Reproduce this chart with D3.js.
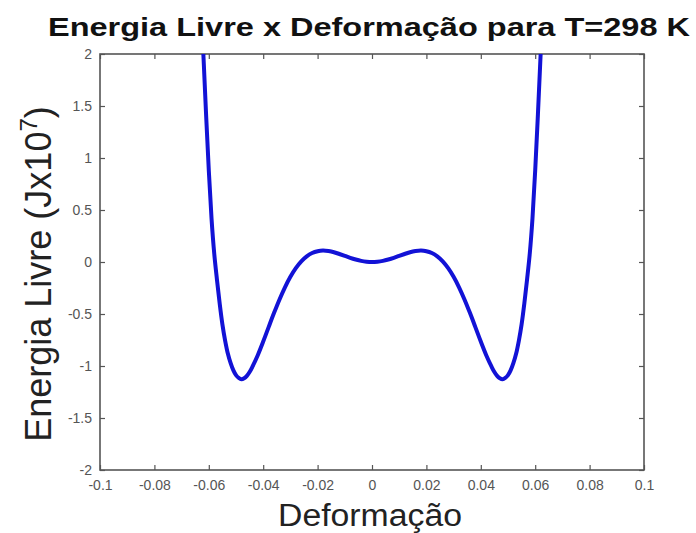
<!DOCTYPE html>
<html>
<head>
<meta charset="utf-8">
<script src="https://cdn.jsdelivr.net/npm/d3@7"></script>
<style>
  html, body { margin: 0; padding: 0; background: #fff; }
  svg { display: block; }
</style>
</head>
<body>
<script>
// Strain (deformação) and free energy (J x 10^7) on the positive half of the curve;
// the curve is symmetric, so the negative half mirrors these points.
const strainHalf = [0, 0.002, 0.004, 0.006, 0.008, 0.010, 0.012, 0.014, 0.016, 0.018,
                    0.020, 0.022, 0.024, 0.026, 0.028, 0.030, 0.032, 0.034, 0.036, 0.038,
                    0.040, 0.042, 0.044, 0.045, 0.046, 0.047, 0.048, 0.049, 0.050, 0.051,
                    0.052, 0.053, 0.054, 0.055, 0.056, 0.057, 0.058, 0.059, 0.060, 0.061,
                    0.062, 0.063];
const energyHalf = [0, 0.003, 0.011, 0.024, 0.040, 0.059, 0.077, 0.094, 0.105, 0.110,
                    0.104, 0.087, 0.055, 0.007, -0.059, -0.142, -0.243, -0.360, -0.489, -0.626,
                    -0.765, -0.896, -1.009, -1.058, -1.095, -1.118, -1.127, -1.115, -1.088, -1.040,
                    -0.970, -0.880, -0.755, -0.600, -0.400, -0.170, 0.080, 0.420, 0.880, 1.420,
                    2.000, 2.600];

const xTicks = [-0.1, -0.08, -0.06, -0.04, -0.02, 0, 0.02, 0.04, 0.06, 0.08, 0.1];
const yTicks = [-2, -1.5, -1, -0.5, 0, 0.5, 1, 1.5, 2];

const titleText = "Energia Livre x Deformação para T=298 K";
const xLabelText = "Deformação";

const W = 696, H = 533;
const plot = { left: 100, right: 644, top: 54, bottom: 470 };

const points = [];
for (let i = strainHalf.length - 1; i > 0; i--) points.push([-strainHalf[i], energyHalf[i]]);
for (let i = 0; i < strainHalf.length; i++) points.push([strainHalf[i], energyHalf[i]]);

const svg = d3.select("body").append("svg").attr("width", W).attr("height", H)
  .style("font-family", "'Liberation Sans', Arial, sans-serif");

const x = d3.scaleLinear().domain([-0.1, 0.1]).range([plot.left, plot.right]);
const y = d3.scaleLinear().domain([-2, 2]).range([plot.bottom, plot.top]);

svg.append("defs").append("clipPath").attr("id", "plotClip")
  .append("rect").attr("x", plot.left).attr("y", plot.top)
  .attr("width", plot.right - plot.left).attr("height", plot.bottom - plot.top);

const axisColor = "#555";
const tickLen = 5;

// Frame
svg.append("rect").attr("x", plot.left).attr("y", plot.top)
  .attr("width", plot.right - plot.left).attr("height", plot.bottom - plot.top)
  .attr("fill", "none").attr("stroke", axisColor).attr("stroke-width", 1.6);

// Bottom and top axes, ticks pointing inward
const xAxisBottom = d3.axisBottom(x).tickValues(xTicks).tickSize(-tickLen).tickPadding(10)
  .tickFormat(d => d === 0 ? "0" : String(+d.toFixed(2)));
const gxb = svg.append("g").attr("transform", `translate(0,${plot.bottom})`).call(xAxisBottom);
const xAxisTop = d3.axisTop(x).tickValues(xTicks).tickSize(-tickLen).tickFormat("");
const gxt = svg.append("g").attr("transform", `translate(0,${plot.top})`).call(xAxisTop);

const yAxisLeft = d3.axisLeft(y).tickValues(yTicks).tickSize(-tickLen).tickPadding(8)
  .tickFormat(d => String(d));
const gyl = svg.append("g").attr("transform", `translate(${plot.left},0)`).call(yAxisLeft);
const yAxisRight = d3.axisRight(y).tickValues(yTicks).tickSize(-tickLen).tickFormat("");
const gyr = svg.append("g").attr("transform", `translate(${plot.right},0)`).call(yAxisRight);

[gxb, gxt, gyl, gyr].forEach(g => {
  g.select(".domain").remove();
  g.selectAll(".tick line").attr("stroke", axisColor).attr("stroke-width", 1.2);
  g.selectAll(".tick text").attr("fill", "#555").style("font-size", "14px")
    .style("font-family", "'Liberation Sans', Arial, sans-serif");
});

// Energy curve
const line = d3.line().x(d => x(d[0])).y(d => y(d[1])).curve(d3.curveCatmullRom.alpha(0.5));
svg.append("path").datum(points)
  .attr("clip-path", "url(#plotClip)")
  .attr("d", line)
  .attr("fill", "none").attr("stroke", "#1212d6").attr("stroke-width", 4)
  .attr("stroke-linejoin", "round");

// Title
svg.append("text").attr("x", 369).attr("y", 36).attr("text-anchor", "middle")
  .attr("font-weight", "bold").attr("font-size", 26).attr("fill", "#111")
  .attr("textLength", 642).attr("lengthAdjust", "spacingAndGlyphs")
  .text(titleText);

// X label
svg.append("text").attr("x", 370).attr("y", 526).attr("text-anchor", "middle")
  .attr("font-size", 31).attr("fill", "#222")
  .attr("textLength", 184).attr("lengthAdjust", "spacingAndGlyphs")
  .text(xLabelText);

// Y label with superscript exponent
const yl = svg.append("text")
  .attr("transform", "translate(51,274) rotate(-90)")
  .attr("text-anchor", "middle").attr("font-size", 36).attr("fill", "#222");
yl.append("tspan").text("Energia Livre (Jx10");
yl.append("tspan").attr("font-size", 24).attr("dy", -14).text("7");
yl.append("tspan").attr("dy", 14).text(")");
</script>
</body>
</html>
